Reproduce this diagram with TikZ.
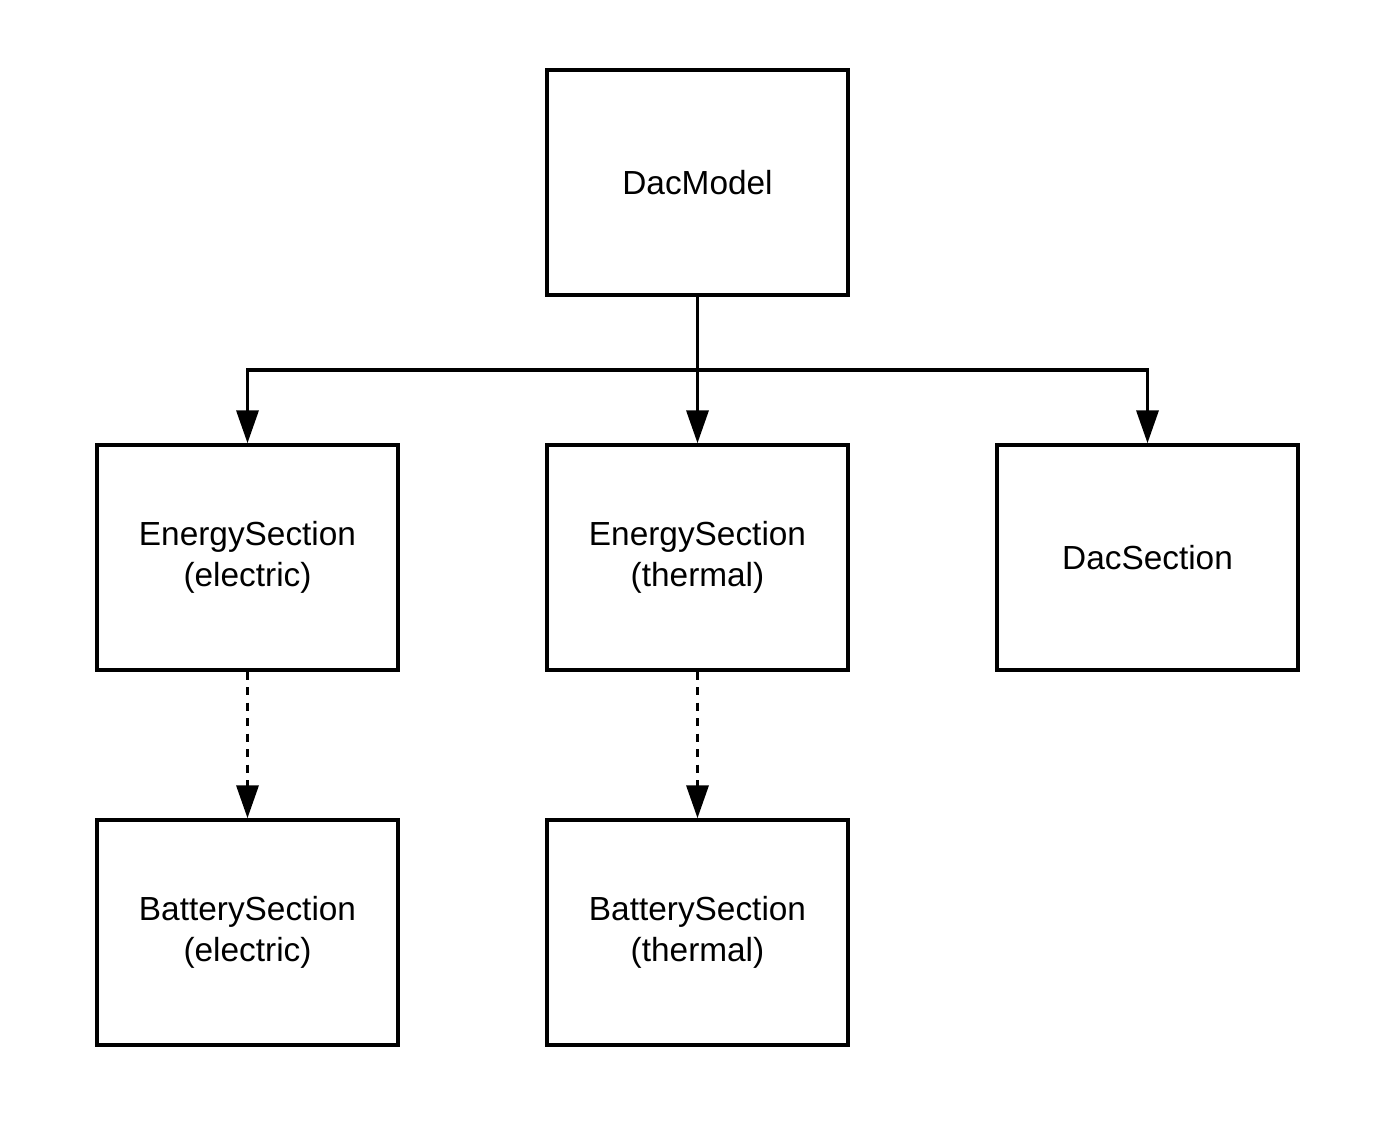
\documentclass[tikz,border=0pt]{standalone}
\usepackage{fontspec}
\setmainfont{Liberation Sans}
\usepackage{tikz}
\usetikzlibrary{arrows.meta, positioning}

\tikzset{
  section/.style={draw, line width=2pt, minimum width=6.02cm, minimum height=4.5cm,
    align=center, inner sep=0pt},
  link/.style={line width=2pt, -{Triangle[length=0.66cm, width=0.44cm]}},
  weaklink/.style={link, dash pattern=on 0.16cm off 0.15cm}
}

\begin{document}
\begin{tikzpicture}[x=0.02cm, y=-0.02cm, font=\fontsize{19}{23}\selectfont]
\useasboundingbox (0,0) rectangle (1373,1121);
% model and its sections
\node[section] (model) at (697.5, 182.5) {DacModel};
\node[section] (energyE) at (247.5, 557.5) {EnergySection\\(electric)};
\node[section] (energyT) at (697.5, 557.5) {EnergySection\\(thermal)};
\node[section] (dac) at (1147.5, 557.5) {DacSection};
\node[section] (batteryE) at (247.5, 932.5) {BatterySection\\(electric)};
\node[section] (batteryT) at (697.5, 932.5) {BatterySection\\(thermal)};
\coordinate (split) at (697.5, 370);
\draw[line width=2pt] (model.south) -- (split);
\foreach \s in {energyE, energyT, dac} {
  \draw[link] (split) -| (\s.north);
}
\draw[weaklink] (energyE.south) -- (batteryE.north);
\draw[weaklink] (energyT.south) -- (batteryT.north);
\end{tikzpicture}
\end{document}
